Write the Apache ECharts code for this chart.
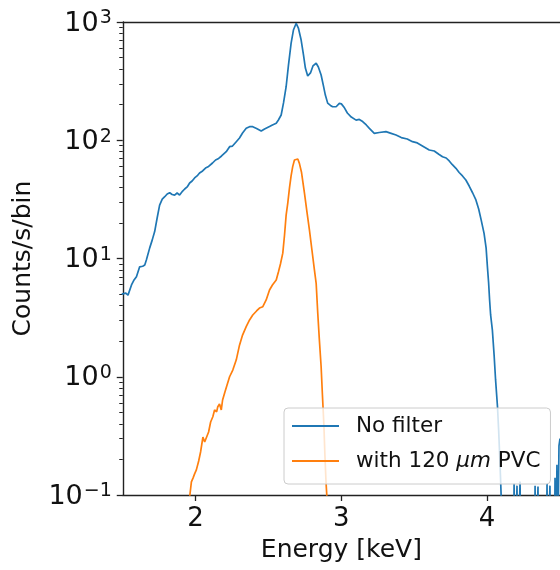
<!DOCTYPE html>
<html>
<head>
<meta charset="utf-8">
<script src="https://cdn.jsdelivr.net/npm/echarts@6/dist/echarts.min.js"></script>
<style>
html,body{margin:0;padding:0;background:#fff;}
#chart{width:560px;height:570px;}
</style>
</head>
<body>
<div id="chart"></div>
<script>
// Energy in keV, counts/s/bin — "No filter"
var blueEnergy = [1.493,1.521,1.536,1.560,1.575,1.594,1.606,1.616,1.637,1.651,1.662,1.685,1.702,1.719,1.736,1.753,1.771,1.788,1.805,1.822,1.839,1.856,1.873,1.890,1.911,1.925,1.942,1.959,1.976,1.993,2.010,2.027,2.048,2.068,2.089,2.116,2.137,2.158,2.178,2.210,2.233,2.253,2.279,2.301,2.322,2.347,2.370,2.392,2.418,2.450,2.473,2.507,2.527,2.553,2.568,2.587,2.603,2.621,2.637,2.655,2.671,2.690,2.705,2.724,2.740,2.753,2.769,2.788,2.805,2.827,2.842,2.861,2.877,2.890,2.906,2.925,2.940,2.964,2.986,3.000,3.021,3.041,3.068,3.101,3.123,3.146,3.171,3.192,3.226,3.260,3.306,3.336,3.375,3.411,3.452,3.488,3.521,3.562,3.603,3.637,3.671,3.694,3.719,3.740,3.760,3.786,3.808,3.831,3.854,3.877,3.901,3.923,3.942,3.959,3.979,3.993,4.002,4.010,4.017,4.024,4.036,4.048,4.058,4.071,4.079,4.086,4.092,4.096,4.100,4.140,4.180,4.185,4.190,4.200,4.205,4.210,4.220,4.226,4.232,4.300,4.325,4.329,4.334,4.345,4.349,4.354,4.405,4.411,4.416,4.426,4.431,4.436,4.460,4.466,4.472,4.476,4.479,4.483,4.488,4.493,4.500];
var blueCounts = [5.0,5.1,4.9,5.97,6.5,7.0,6.8,8.5,8.6,8.8,9.7,12.3,14.3,16.9,22.0,28.3,31.8,33.3,35.1,36.0,34.8,34.4,35.8,34.4,37.2,38.7,40.3,43.5,45.2,48.0,49.9,52.9,55.0,58.2,60.0,64.2,68.1,70.2,73.6,80.0,88.2,89.3,97.2,104.5,115.1,126.1,130.2,130.2,125.7,119.7,124.5,130.6,134.5,139.1,148.3,163.5,206.7,283.6,432,660,855,975,889,704,526,408,349,371,425,448,416,356,288,241,206,197,192,192,205,203,188,170,157,148,150,144,134.6,126,114.5,116.3,118.2,115,110.7,105.4,102.5,97.3,94.9,88.6,82.7,81.1,75.8,72.6,70.8,66.8,62.4,57.9,53.4,49.9,46.1,41.0,35.8,31.3,26.2,21.2,16.3,12.3,8.5,6.3,4.46,3.33,2.48,1.52,0.94,0.56,0.355,0.218,0.139,0.1,0.02,0.02,0.02,0.125,0.02,0.02,0.12,0.02,0.02,0.13,0.02,0.02,0.02,0.12,0.02,0.02,0.118,0.02,0.02,0.125,0.02,0.02,0.12,0.02,0.02,0.14,0.02,0.02,0.18,0.02,0.02,0.26,0.3];

// "with 120 μm PVC"
var orangeEnergy = [1.959,1.971,1.982,1.993,2.005,2.021,2.034,2.050,2.062,2.073,2.089,2.103,2.118,2.130,2.144,2.152,2.164,2.176,2.185,2.199,2.212,2.233,2.255,2.279,2.301,2.322,2.347,2.370,2.392,2.418,2.438,2.461,2.484,2.507,2.527,2.553,2.568,2.582,2.598,2.610,2.621,2.632,2.644,2.655,2.666,2.678,2.689,2.701,2.712,2.726,2.747,2.764,2.781,2.798,2.815,2.827,2.838,2.849,2.861,2.870,2.880,2.887,2.895,2.901];
var orangeCounts = [0.096,0.129,0.139,0.151,0.163,0.194,0.231,0.309,0.281,0.282,0.341,0.414,0.459,0.524,0.504,0.558,0.589,0.524,0.636,0.729,0.824,1.0,1.14,1.39,1.85,2.25,2.65,3.02,3.33,3.60,3.81,3.91,4.46,5.42,5.97,6.58,7.69,8.98,11.1,15.8,23.3,29.3,39.5,49.9,59.8,68.1,70.4,69.4,63.8,53.9,35.6,24.7,17.4,11.8,8.0,6.17,3.44,2.05,1.22,0.701,0.391,0.218,0.126,0.095];

var seriesNames = ['No filter', 'with 120 μm PVC'];
var xTicks = [2, 3, 4];
var yMajorTicks = [0.1, 1, 10, 100, 1000];

var FONT = 'DejaVu Sans';
var AX = '#222';

function pairs(xs, ys){ return xs.map(function(x,i){ return [x, ys[i]]; }); }

// minor tick positions (log10 space) at 2..9 × 10^n
var minorLog = [];
for (var n = -1; n < 3; n++) for (var k = 2; k <= 9; k++) minorLog.push(Math.log10(k * Math.pow(10, n)));

var chart = echarts.init(document.getElementById('chart'), null, {renderer: 'canvas'});
chart.setOption({
  animation: false,
  backgroundColor: '#fff',
  textStyle: {fontFamily: FONT},
  grid: {left: 122.75, right: -2.25, top: 22, bottom: 75, containLabel: false},
  legend: {
    show: true,
    data: seriesNames,
    orient: 'vertical',
    left: 284,
    top: 408,
    padding: [7, 10, 12, 8],
    icon: 'rect',
    itemWidth: 47,
    itemHeight: 2,
    itemGap: 13,
    backgroundColor: 'rgba(255,255,255,0.8)',
    borderColor: '#cccccc',
    borderWidth: 1,
    borderRadius: 4,
    formatter: function(name){
      if (name.indexOf('μm') >= 0) return '{n|with 120 }{i|μm}{n| PVC}';
      return '{n|' + name + '}';
    },
    textStyle: {
      fontFamily: FONT, fontSize: 21.5, color: '#111', padding: [0,0,0,12],
      rich: {
        n: {fontFamily: FONT, fontSize: 21.5, color: '#111', lineHeight: 22},
        i: {fontFamily: FONT, fontSize: 21.5, fontStyle: 'italic', color: '#111', lineHeight: 22}
      }
    }
  },
  xAxis: [{
    type: 'value', min: 1.5, max: 4.5,
    position: 'bottom',
    name: 'Energy [keV]', nameLocation: 'middle', nameGap: 43,
    nameTextStyle: {fontFamily: FONT, fontSize: 25, color: '#111'},
    axisLine: {show: true, onZero: false, lineStyle: {color: AX, width: 1.4}},
    axisTick: {show: true, length: 6, customValues: xTicks, lineStyle: {color: AX, width: 1.3}},
    axisLabel: {show: true, margin: 11, customValues: xTicks, fontFamily: FONT, fontSize: 26, color: '#111'},
    splitLine: {show: false}
  }, {
    type: 'value', min: 1.5, max: 4.5,
    position: 'top',
    axisLine: {show: true, onZero: false, lineStyle: {color: AX, width: 1.4}},
    axisTick: {show: false}, axisLabel: {show: false}, splitLine: {show: false}
  }],
  yAxis: [{
    type: 'log', logBase: 10, min: 0.1, max: 1000,
    position: 'left',
    name: 'Counts/s/bin', nameLocation: 'middle', nameGap: 87, nameRotate: 90,
    nameTextStyle: {fontFamily: FONT, fontSize: 25, color: '#111'},
    axisLine: {show: true, lineStyle: {color: AX, width: 1.4}},
    axisTick: {show: true, length: 6, customValues: yMajorTicks, lineStyle: {color: AX, width: 1.3}},
    axisLabel: {
      show: true, margin: 11, customValues: yMajorTicks,
      formatter: function(v){
        var e = Math.round(Math.log10(v));
        var s = e < 0 ? '\u2212' + (-e) : '' + e;
        return '{b|10}{s|' + s + '}';
      },
      rich: {
        b: {fontFamily: FONT, fontSize: 27, color: '#111', lineHeight: 30, verticalAlign: 'bottom'},
        s: {fontFamily: FONT, fontSize: 19, color: '#111', lineHeight: 19, verticalAlign: 'top', padding: [2,0,0,1]}
      }
    },
    splitLine: {show: false}
  }, {
    type: 'value', min: -1, max: 3,
    position: 'left',
    axisLine: {show: false},
    axisTick: {show: true, length: 3.5, customValues: minorLog, lineStyle: {color: AX, width: 1}},
    axisLabel: {show: false},
    splitLine: {show: false}
  }],
  series: [{
    name: seriesNames[0], type: 'line', xAxisIndex: 0, yAxisIndex: 0,
    data: pairs(blueEnergy, blueCounts),
    showSymbol: false, symbol: 'none', clip: true,
    lineStyle: {color: '#1f77b4', width: 1.7},
    itemStyle: {color: '#1f77b4'}
  }, {
    name: seriesNames[1], type: 'line', xAxisIndex: 0, yAxisIndex: 0,
    data: pairs(orangeEnergy, orangeCounts),
    showSymbol: false, symbol: 'none', clip: true,
    lineStyle: {color: '#ff7f0e', width: 1.7},
    itemStyle: {color: '#ff7f0e'}
  }]
});
</script>
</body>
</html>
